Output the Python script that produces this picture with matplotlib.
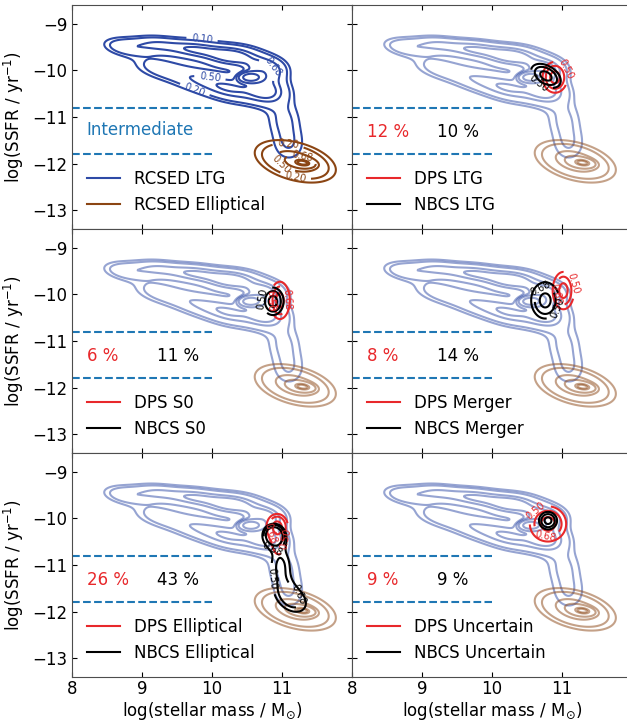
import numpy as np
import matplotlib
matplotlib.use("Agg")
import matplotlib.pyplot as plt

# gaussian components: (x, y, sigma_x, sigma_y, rho, weight)
rcsed_ltg = [
    (8.75, -9.5, 0.22, 0.14, -0.3, 0.03),
    (9.2, -9.45, 0.25, 0.13, -0.2, 0.04),
    (9.25, -9.95, 0.27, 0.18, -0.4, 0.04),
    (9.75, -9.55, 0.27, 0.14, -0.2, 0.06),
    (9.8, -10.2, 0.29, 0.20, -0.4, 0.06),
    (10.3, -9.7, 0.27, 0.16, -0.1, 0.09),
    (10.3, -10.4, 0.27, 0.20, -0.3, 0.08),
    (10.75, -10.0, 0.20, 0.18, 0.0, 0.08),
    (10.8, -10.45, 0.20, 0.20, 0.0, 0.07),
    (10.55, -10.15, 0.09, 0.06, 0.0, 0.05),
    (11.02, -11.0, 0.19, 0.30, 0.0, 0.04),
    (11.1, -11.6, 0.19, 0.30, 0.0, 0.037),
]
rcsed_ell = [
    (11.19, -11.95, 0.28, 0.22, -0.4, 0.85),
    (11.3, -11.98, 0.10, 0.06, -0.3, 0.15),
]

dps = {
    'LTG': [(10.9, -10.15, 0.15, 0.28, 0.0, 1.0)],
    'S0': [(10.97, -10.13, 0.12, 0.34, 0.0, 1.0)],
    'Merger': [(11.02, -9.92, 0.13, 0.34, 0.0, 1.0)],
    'Elliptical': [(10.93, -10.15, 0.13, 0.22, 0.0, 0.6),
                   (10.95, -10.65, 0.12, 0.27, 0.0, 0.4)],
    'Uncertain': [(10.8, -10.12, 0.22, 0.32, 0.0, 1.0)],
}
nbcs = {
    'LTG': [(10.77, -10.12, 0.18, 0.22, -0.4, 1.0)],
    'S0': [(10.87, -10.15, 0.13, 0.25, 0.0, 1.0)],
    'Merger': [(10.76, -10.13, 0.17, 0.33, 0.0, 1.0)],
    'Elliptical': [(10.88, -10.35, 0.12, 0.18, 0.0, 0.2),
                   (10.98, -10.95, 0.18, 0.38, 0.0, 0.35),
                   (11.15, -11.75, 0.25, 0.33, -0.3, 0.45)],
    'Uncertain': [(10.8, -10.05, 0.11, 0.16, 0.0, 1.0)],
}

classes = ['LTG', 'S0', 'Merger', 'Elliptical', 'Uncertain']
dps_pct = ['12 %', '6 %', '8 %', '26 %', '9 %']
nbcs_pct = ['10 %', '11 %', '14 %', '43 %', '9 %']

rcsed_levels = [0.10, 0.20, 0.50, 0.68, 0.90, 0.95]
sample_levels = [0.50, 0.68, 0.90]

# where the labels sit in the first panel
ltg_label_pos = [(9.86, -9.30), (9.76, -10.39), (10.86, -9.94), (9.97, -10.16)]
ell_label_pos = [(11.09, -11.57), (11.29, -11.85), (11.0, -11.98), (11.19, -12.3)]

blue = '#2e4aa6'
brown = '#8b4513'
red = '#e8282b'
cyan = '#1f77b4'

xg, yg = np.meshgrid(np.linspace(7.5, 12.5, 400), np.linspace(-14, -8, 400))


def density(comps):
    z = np.zeros_like(xg)
    for mx, my, sx, sy, rho, w in comps:
        dx = (xg - mx) / sx
        dy = (yg - my) / sy
        q = (dx ** 2 - 2 * rho * dx * dy + dy ** 2) / (1 - rho ** 2)
        z += w * np.exp(-0.5 * q) / (2 * np.pi * sx * sy * np.sqrt(1 - rho ** 2))
    return z


def iso_levels(z, props):
    flat = np.sort(z.ravel())
    cum = np.cumsum(flat)
    cum /= cum[-1]
    return [flat[np.searchsorted(cum, p)] for p in props]


def kde(ax, comps, props, color, alpha=1.0, lw=1.5, labels=True, manual=False):
    z = density(comps)
    lev = iso_levels(z, props)
    cs = ax.contour(xg, yg, z, levels=lev, colors=color, alpha=alpha, linewidths=lw)
    if labels:
        fmt = {l: '%.2f' % p for l, p in zip(cs.levels, props)}
        ax.clabel(cs, fmt=fmt, fontsize=7, manual=manual)
    return cs


def style(ax):
    ax.set_xlim(8, 12)
    ax.set_ylim(-13.4, -8.6)
    ax.set_xticks([8, 9, 10, 11])
    ax.set_yticks([-9, -10, -11, -12, -13])
    ax.tick_params(direction='in', top=True, right=True, labelsize=12)
    ax.tick_params(axis='x', pad=2.5)
    for s in ax.spines.values():
        s.set_color('0.3')
    ax.plot([8, 10], [-10.8, -10.8], '--', color=cyan, lw=1.5)
    ax.plot([8, 10], [-11.8, -11.8], '--', color=cyan, lw=1.5)


fig = plt.figure(figsize=(6.27, 7.22), dpi=100)
W, H = 627, 722
lefts = [72, 352]
bottoms = [229, 453, 677]
axes = []
for r in range(3):
    for c in range(2):
        ax = fig.add_axes([lefts[c] / W, 1 - bottoms[r] / H, 280 / W, 224 / H])
        style(ax)
        if c == 1:
            ax.set_yticklabels([])
        else:
            ax.set_ylabel('log(SSFR / yr$^{-1}$)', fontsize=12)
        if r < 2:
            ax.set_xticklabels([])
        else:
            ax.set_xlabel(r'log(stellar mass / M$_{\odot}$)', fontsize=12, labelpad=1)
        axes.append(ax)

# first panel: reference populations
ax = axes[0]
kde(ax, rcsed_ltg, rcsed_levels, blue, manual=ltg_label_pos)
kde(ax, rcsed_ell, rcsed_levels, brown, manual=ell_label_pos)
ax.text(8.21, -11.27, 'Intermediate', color=cyan, fontsize=12, va='center')
ax.plot([], [], color=blue, lw=1.5, label='RCSED LTG')
ax.plot([], [], color=brown, lw=1.5, label='RCSED Elliptical')
ax.legend(loc='lower left', frameon=False, fontsize=12)

for i, name in enumerate(classes):
    ax = axes[i + 1]
    kde(ax, rcsed_ltg, rcsed_levels, blue, alpha=0.5, labels=False)
    kde(ax, rcsed_ell, rcsed_levels, brown, alpha=0.5, labels=False)
    kde(ax, dps[name], sample_levels, red)
    kde(ax, nbcs[name], sample_levels, 'black')
    ax.text(8.21, -11.33, dps_pct[i], color=red, fontsize=12, va='center')
    ax.text(9.21, -11.33, nbcs_pct[i], color='black', fontsize=12, va='center')
    ax.plot([], [], color=red, lw=1.5, label='DPS ' + name)
    ax.plot([], [], color='black', lw=1.5, label='NBCS ' + name)
    ax.legend(loc='lower left', frameon=False, fontsize=12)

fig.savefig('out.png', dpi=100)
